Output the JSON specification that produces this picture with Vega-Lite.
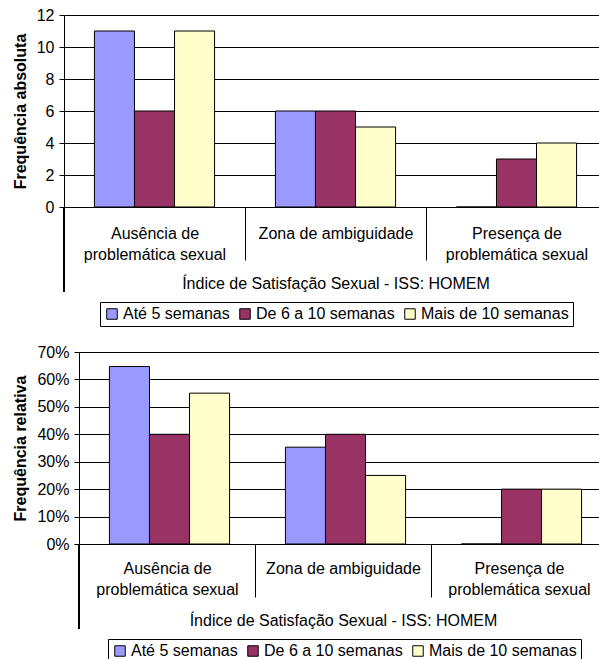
{
  "$schema": "https://vega.github.io/schema/vega-lite/v6.json",
  "padding": {"left": 12, "top": 7, "right": 0, "bottom": 0},
  "background": "white",
  "config": {
    "font": "Liberation Sans",
    "view": {"stroke": null},
    "axis": {"labelColor": "#000", "titleColor": "#000", "domainColor": "#000", "tickColor": "#000", "gridColor": "#000", "gridOpacity": 1, "domainWidth": 1, "tickWidth": 1, "gridWidth": 1, "labelOverlap": false},
    "legend": {"strokeColor": "#000", "strokeWidth": 1, "padding": 4, "symbolType": "square", "symbolSize": 110, "symbolStrokeColor": "#000", "symbolStrokeWidth": 1, "labelFontSize": 16, "labelColor": "#000", "columnPadding": 7, "labelOffset": 3, "orient": "none", "direction": "horizontal", "title": null}
  },
  "datasets": {
    "d": [
      {"cat": "Ausência de problemática sexual", "grupo": "Até 5 semanas", "abs": 11, "rel": 0.647},
      {"cat": "Ausência de problemática sexual", "grupo": "De 6 a 10 semanas", "abs": 6, "rel": 0.40},
      {"cat": "Ausência de problemática sexual", "grupo": "Mais de 10 semanas", "abs": 11, "rel": 0.55},
      {"cat": "Zona de ambiguidade", "grupo": "Até 5 semanas", "abs": 6, "rel": 0.353},
      {"cat": "Zona de ambiguidade", "grupo": "De 6 a 10 semanas", "abs": 6, "rel": 0.40},
      {"cat": "Zona de ambiguidade", "grupo": "Mais de 10 semanas", "abs": 5, "rel": 0.25},
      {"cat": "Presença de problemática sexual", "grupo": "Até 5 semanas", "abs": 0, "rel": 0},
      {"cat": "Presença de problemática sexual", "grupo": "De 6 a 10 semanas", "abs": 3, "rel": 0.20},
      {"cat": "Presença de problemática sexual", "grupo": "Mais de 10 semanas", "abs": 4, "rel": 0.20}
    ]
  },
  "vconcat": [
    {
      "width": 543,
      "height": 192,
      "data": {"name": "d"},
      "layer": [
        {
          "mark": {"type": "bar", "stroke": "#000", "strokeWidth": 1},
          "encoding": {
            "x": {"field": "cat", "type": "nominal", "sort": ["Ausência de problemática sexual", "Zona de ambiguidade", "Presença de problemática sexual"], "scale": {"paddingInner": 0, "paddingOuter": 0},
              "axis": {"title": "Índice de Satisfação Sexual - ISS: HOMEM", "tickBand": "extent", "tickSize": 53, "labelAngle": 0, "labelBaseline": "top", "labelPadding": -35, "labelLineHeight": 21, "labelFontSize": 16, "titleFontSize": 16, "titleFontWeight": "normal", "titlePadding": 13,
                "labelExpr": "datum.value == 'Ausência de problemática sexual' ? ['Ausência de', 'problemática sexual'] : datum.value == 'Presença de problemática sexual' ? ['Presença de', 'problemática sexual'] : datum.value"}},
            "xOffset": {"field": "grupo", "type": "nominal", "sort": ["Até 5 semanas", "De 6 a 10 semanas", "Mais de 10 semanas"], "scale": {"paddingInner": 0, "paddingOuter": 0.76}},
            "y": {"field": "abs", "type": "quantitative", "scale": {"domain": [0, 12], "nice": false},
              "axis": {"title": "Frequência absoluta", "values": [0, 2, 4, 6, 8, 10, 12], "format": "d", "tickCount": 20, "tickSize": 5, "labelFontSize": 16, "labelPadding": 5, "titleFontSize": 16, "titleFontWeight": "bold", "titlePadding": 8}},
            "color": {"field": "grupo", "type": "nominal", "sort": ["Até 5 semanas", "De 6 a 10 semanas", "Mais de 10 semanas"], "scale": {"range": ["#9999FF", "#993366", "#FFFFCC"]},
              "legend": {"legendX": 36, "legendY": 287}}
          }
        },
        {
          "mark": {"type": "rule", "color": "#000", "strokeWidth": 1},
          "encoding": {
            "x": {"datum": "Ausência de problemática sexual", "type": "nominal", "bandPosition": 0},
            "y": {"datum": 0, "type": "quantitative"},
            "y2": {"datum": -5.3}
          }
        }
      ]
    },
    {
      "width": 543,
      "height": 192,
      "data": {"name": "d"},
      "layer": [
        {
          "mark": {"type": "bar", "stroke": "#000", "strokeWidth": 1},
          "encoding": {
            "x": {"field": "cat", "type": "nominal", "sort": ["Ausência de problemática sexual", "Zona de ambiguidade", "Presença de problemática sexual"], "scale": {"paddingInner": 0, "paddingOuter": 0, "range": [15, 543]},
              "axis": {"title": "Índice de Satisfação Sexual - ISS: HOMEM", "tickBand": "extent", "tickSize": 53, "labelAngle": 0, "labelBaseline": "top", "labelPadding": -37, "labelLineHeight": 21, "labelFontSize": 16, "titleFontSize": 16, "titleFontWeight": "normal", "titlePadding": 15,
                "labelExpr": "datum.value == 'Ausência de problemática sexual' ? ['Ausência de', 'problemática sexual'] : datum.value == 'Presença de problemática sexual' ? ['Presença de', 'problemática sexual'] : datum.value"}},
            "xOffset": {"field": "grupo", "type": "nominal", "sort": ["Até 5 semanas", "De 6 a 10 semanas", "Mais de 10 semanas"], "scale": {"paddingInner": 0, "paddingOuter": 0.76}},
            "y": {"field": "rel", "type": "quantitative", "scale": {"domain": [0, 0.7], "nice": false},
              "axis": {"title": "Frequência relativa", "values": [0, 0.1, 0.2, 0.3, 0.4, 0.5, 0.6, 0.7], "tickCount": 20, "format": ".0%", "offset": -15, "tickSize": 5, "labelFontSize": 16, "labelPadding": 5, "titleFontSize": 16, "titleFontWeight": "bold", "titlePadding": 8}},
            "color": {"field": "grupo", "type": "nominal", "sort": ["Até 5 semanas", "De 6 a 10 semanas", "Mais de 10 semanas"], "scale": {"range": ["#9999FF", "#993366", "#FFFFCC"]},
              "legend": {"legendX": 44, "legendY": 287}}
          }
        },
        {
          "mark": {"type": "rule", "color": "#000", "strokeWidth": 1},
          "encoding": {
            "x": {"datum": "Ausência de problemática sexual", "type": "nominal", "bandPosition": 0},
            "y": {"datum": 0, "type": "quantitative"},
            "y2": {"datum": -0.31}
          }
        }
      ]
    }
  ],
  "spacing": 17,
  "resolve": {"scale": {"color": "independent"}}
}
